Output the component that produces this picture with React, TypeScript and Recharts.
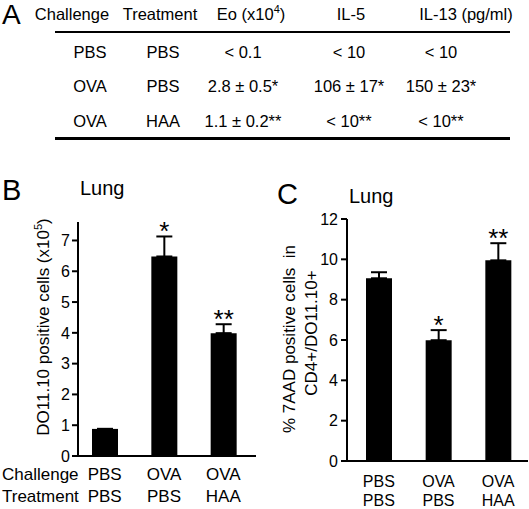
import React from "react";
import {
  BarChart,
  Bar,
  XAxis,
  YAxis,
  ErrorBar,
  LabelList
} from "recharts";

const FONT = "'Liberation Sans', Arial, Helvetica, sans-serif";

// table A
const challenge = ["PBS", "OVA", "OVA"];
const treatment = ["PBS", "PBS", "HAA"];
const eo = ["< 0.1", "2.8 \u00b1 0.5*", "1.1 \u00b1 0.2**"];
const il5 = ["< 10", "106 \u00b1 17*", "< 10**"];
const il13 = ["< 10", "150 \u00b1 23*", "< 10**"];

// panel B: DO11.10 positive cells (x10^5)
const cellsMean = [0.88, 6.48, 3.99];
const cellsErr = [0, 0.65, 0.29];
const cellsSig = ["", "*", "**"];
const cellsTicks = [0, 1, 2, 3, 4, 5, 6, 7];

// panel C: % 7AAD positive cells
const aadMean = [9.06, 5.99, 9.95];
const aadErr = [0.3, 0.5, 0.85];
const aadSig = ["", "*", "**"];
const aadTicks = [0, 2, 4, 6, 8, 10, 12];

const cellsData = challenge.map((c, i) => ({
  name: c + "/" + treatment[i],
  value: cellsMean[i],
  err: [0, cellsErr[i]],
  sig: cellsSig[i]
}));

const aadData = challenge.map((c, i) => ({
  name: c + "/" + treatment[i],
  value: aadMean[i],
  err: [0, aadErr[i]],
  sig: aadSig[i]
}));

function makeTick(fontSize: number, dy1: number, dy2: number) {
  return function Tick(props: any) {
    const { x, y, index } = props;
    return (
      <g>
        <text x={x} y={y + dy1} textAnchor="middle" fontSize={fontSize} fontFamily={FONT} fill="#000">
          {challenge[index]}
        </text>
        <text x={x} y={y + dy2} textAnchor="middle" fontSize={fontSize} fontFamily={FONT} fill="#000">
          {treatment[index]}
        </text>
      </g>
    );
  };
}

function makeStars(errs: number[], means: number[]) {
  return function Stars(props: any) {
    const vb = props.viewBox || props;
    const { x, y, width, height } = vb;
    const i = props.index;
    if (!props.value) return null;
    const pxPerUnit = height / means[i];
    const top = y - errs[i] * pxPerUnit;
    return (
      <text x={x + width / 2} y={top + 4} textAnchor="middle" fontSize={26} fontFamily={FONT} fill="#000">
        {props.value}
      </text>
    );
  };
}

const axisStyle = { stroke: "#000", strokeWidth: 2 };

export default function App() {
  const headX = [72, 160, 251, 351, 466];
  const colX = [90, 163, 243, 349, 441];
  const rowY = [58, 92, 127];
  const cols = [challenge, treatment, eo, il5, il13];
  return (
    <div style={{ position: "absolute", left: 0, top: 0, width: 529, height: 509, background: "#fff" }}>
      <div style={{ position: "absolute", left: 0, top: 200 }}>
        <BarChart width={265} height={309} data={cellsData} margin={{ top: 22, right: 9, bottom: 3, left: 0 }}>
          <XAxis
            dataKey="name"
            axisLine={axisStyle}
            tickLine={false}
            tickSize={0}
            tickMargin={0}
            height={50}
            padding={{ left: -3, right: 3 }}
            tick={makeTick(17, 24, 46)}
            interval={0}
          />
          <YAxis
            width={78}
            domain={[0, 7.6]}
            ticks={cellsTicks}
            axisLine={axisStyle}
            tickLine={axisStyle}
            tickSize={6}
            tickMargin={2}
            tick={{ fill: "#000", fontSize: 16, fontFamily: FONT }}
          />
          <Bar dataKey="value" fill="#000" barSize={26} isAnimationActive={false}>
            <ErrorBar dataKey="err" width={8} stroke="#000" strokeWidth={2} direction="y" />
            <LabelList dataKey="sig" content={makeStars(cellsErr, cellsMean)} />
          </Bar>
        </BarChart>
      </div>
      <div style={{ position: "absolute", left: 260, top: 200 }}>
        <BarChart width={269} height={309} data={aadData} margin={{ top: 19, right: 1, bottom: 3, left: 0 }}>
          <XAxis
            dataKey="name"
            axisLine={axisStyle}
            tickLine={false}
            tickSize={0}
            tickMargin={0}
            height={45}
            padding={{ left: 2, right: 0 }}
            tick={makeTick(16, 26, 45)}
            interval={0}
          />
          <YAxis
            width={87}
            domain={[0, 12]}
            ticks={aadTicks}
            axisLine={axisStyle}
            tickLine={axisStyle}
            tickSize={6}
            tickMargin={3}
            tick={{ fill: "#000", fontSize: 16, fontFamily: FONT }}
          />
          <Bar dataKey="value" fill="#000" barSize={26} isAnimationActive={false}>
            <ErrorBar dataKey="err" width={8} stroke="#000" strokeWidth={2} direction="y" />
            <LabelList dataKey="sig" content={makeStars(aadErr, aadMean)} />
          </Bar>
        </BarChart>
      </div>
      <svg
        width={529}
        height={509}
        style={{ position: "absolute", left: 0, top: 0, pointerEvents: "none" }}
        fontFamily={FONT}
        fill="#000"
      >
        {/* panel A table */}
        <text x={2} y={24} fontSize={28}>A</text>
        <g fontSize={16.5} textAnchor="middle">
          <text x={headX[0]} y={20}>Challenge</text>
          <text x={headX[1]} y={20}>Treatment</text>
          <text x={headX[2]} y={20}>
            Eo (x10<tspan fontSize={11} dy={-7}>4</tspan><tspan dy={7}>)</tspan>
          </text>
          <text x={headX[3]} y={20}>IL-5</text>
          <text x={headX[4]} y={20}>IL-13 (pg/ml)</text>
          {cols.map((col, c) =>
            col.map((v, r) => (
              <text key={c + "-" + r} x={colX[c]} y={rowY[r]}>{v}</text>
            ))
          )}
        </g>
        <line x1={55} x2={510} y1={32} y2={32} stroke="#000" strokeWidth={2} />
        <line x1={55} x2={510} y1={138.5} y2={138.5} stroke="#000" strokeWidth={3} />

        {/* panel B labels */}
        <text x={2} y={200} fontSize={29}>B</text>
        <text x={80} y={195} fontSize={20}>Lung</text>
        <text transform="translate(49,327) rotate(-90)" textAnchor="middle" fontSize={17}>
          DO11.10 positive cells (x10<tspan fontSize={11} dy={-7}>5</tspan><tspan dy={7}>)</tspan>
        </text>
        <text x={2} y={480} fontSize={17}>Challenge</text>
        <text x={2} y={502} fontSize={17}>Treatment</text>

        {/* panel C labels */}
        <text x={277} y={204} fontSize={29}>C</text>
        <text x={349} y={203} fontSize={20}>Lung</text>
        <text transform="translate(295,339) rotate(-90)" textAnchor="middle" fontSize={17} style={{ whiteSpace: "pre" }}>
          {"% 7AAD positive cells  in"}
        </text>
        <text transform="translate(317,333) rotate(-90)" textAnchor="middle" fontSize={17}>
          CD4+/DO11.10+
        </text>
      </svg>
    </div>
  );
}
